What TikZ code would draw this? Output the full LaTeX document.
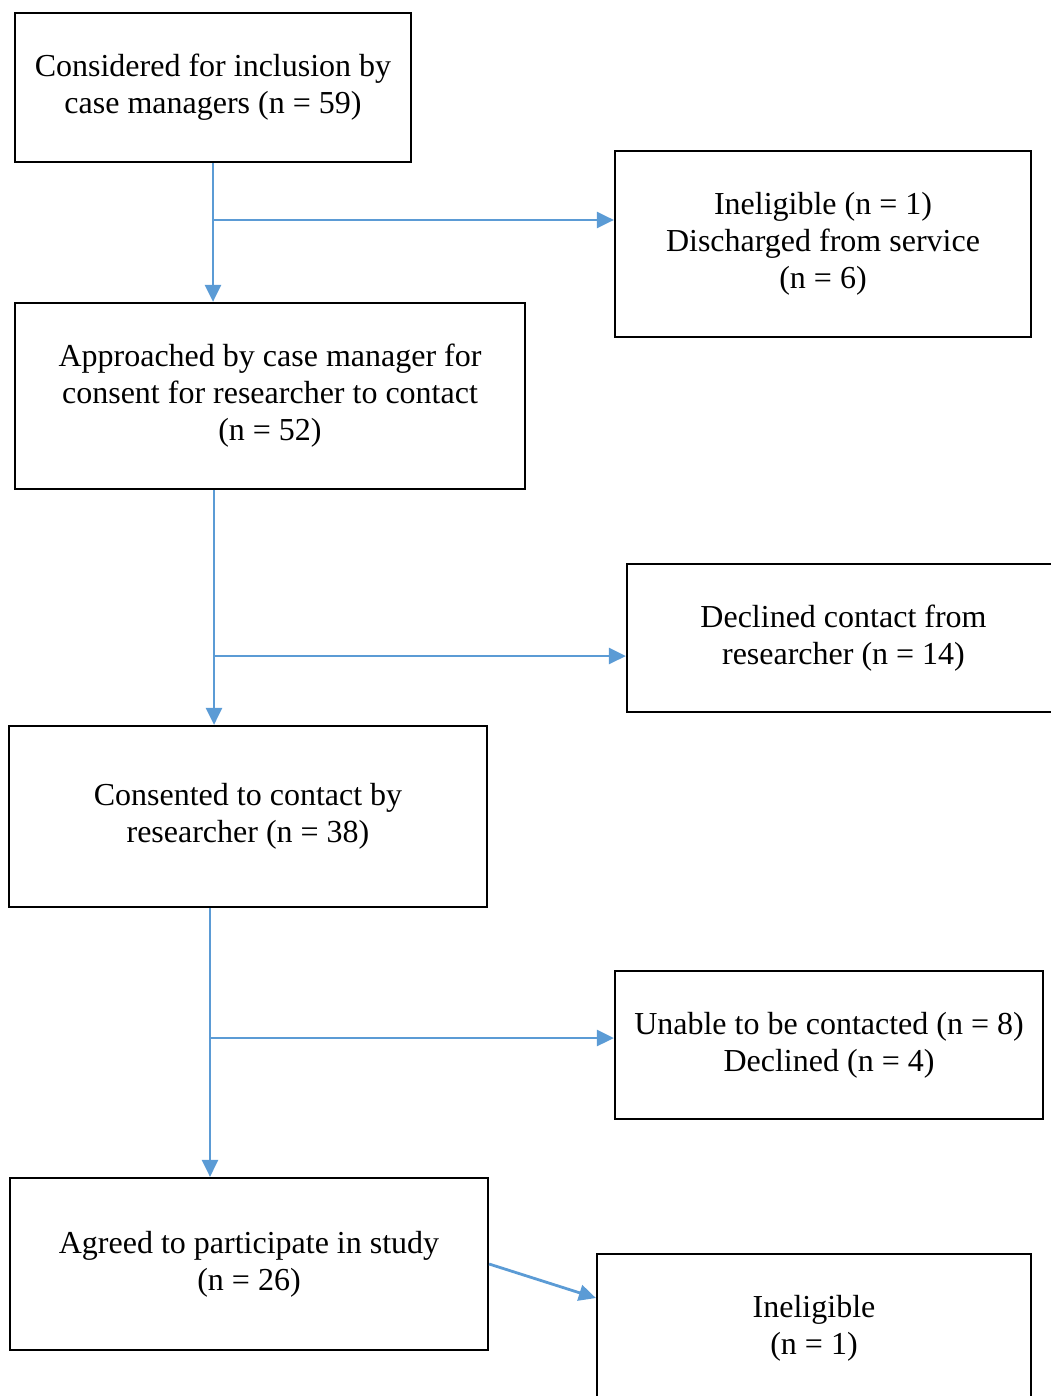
\documentclass[tikz,border=0pt]{standalone}
\usepackage{fontspec}
\setmainfont{Liberation Serif}
\usetikzlibrary{arrows.meta}
\definecolor{flowblue}{RGB}{91,155,213}
\tikzset{
	box/.style={draw, line width=2.2pt, inner sep=0pt, align=center, font=\fontsize{32}{37}\selectfont},
	arr/.style={flowblue, line width=2.8pt, -{Triangle[length=17pt,width=16pt]}}
}
\begin{document}
\begin{tikzpicture}[x=1pt, y=-1pt]
	\useasboundingbox (0,0) rectangle (1050,1396);
	% boxes
	\node[box, minimum width=396, minimum height=149] (cons) at (213,87.5) {Considered for inclusion by\\case managers (n = 59)};
	\node[box, minimum width=416, minimum height=186] (inel) at (823,244) {Ineligible (n = 1)\\Discharged from service\\(n = 6)};
	\node[box, minimum width=510, minimum height=186] (appr) at (270,396) {Approached by case manager for\\consent for researcher to contact\\(n = 52)};
	\node[box, minimum width=433, minimum height=148] (decl) at (843.5,638) {Declined contact from\\researcher (n = 14)};
	\node[box, minimum width=478, minimum height=181] (consent) at (248,816.5) {Consented to contact by\\researcher (n = 38)};
	\node[box, minimum width=428, minimum height=148] (unab) at (829,1045) {Unable to be contacted (n = 8)\\Declined (n = 4)};
	\node[box, minimum width=478, minimum height=172] (agreed) at (249,1264) {Agreed to participate in study\\(n = 26)};
	\node[box, minimum width=434, minimum height=148] (inelb) at (814,1328) {Ineligible\\(n = 1)};
	
	% main flow
	\draw[arr] (cons.south) -- (cons.south |- appr.north);
	\draw[arr] ([xshift=-56pt]appr.south) -- ([xshift=-56pt]appr.south |- consent.north);
	\draw[arr] ([xshift=-38pt]consent.south) -- ([xshift=-38pt]consent.south |- agreed.north);
	
	% exits
	\coordinate (j1) at (212,220);
	\coordinate (j2) at (214,656);
	\coordinate (j3) at (210,1038);
	\draw[arr] (j1) -- (j1 -| inel.west);
	\draw[arr] (j2) -- (j2 -| decl.west);
	\draw[arr] (j3) -- (j3 -| unab.west);
	\draw[arr] (agreed.east) -- ([yshift=30pt]inelb.west);
\end{tikzpicture}
\end{document}
